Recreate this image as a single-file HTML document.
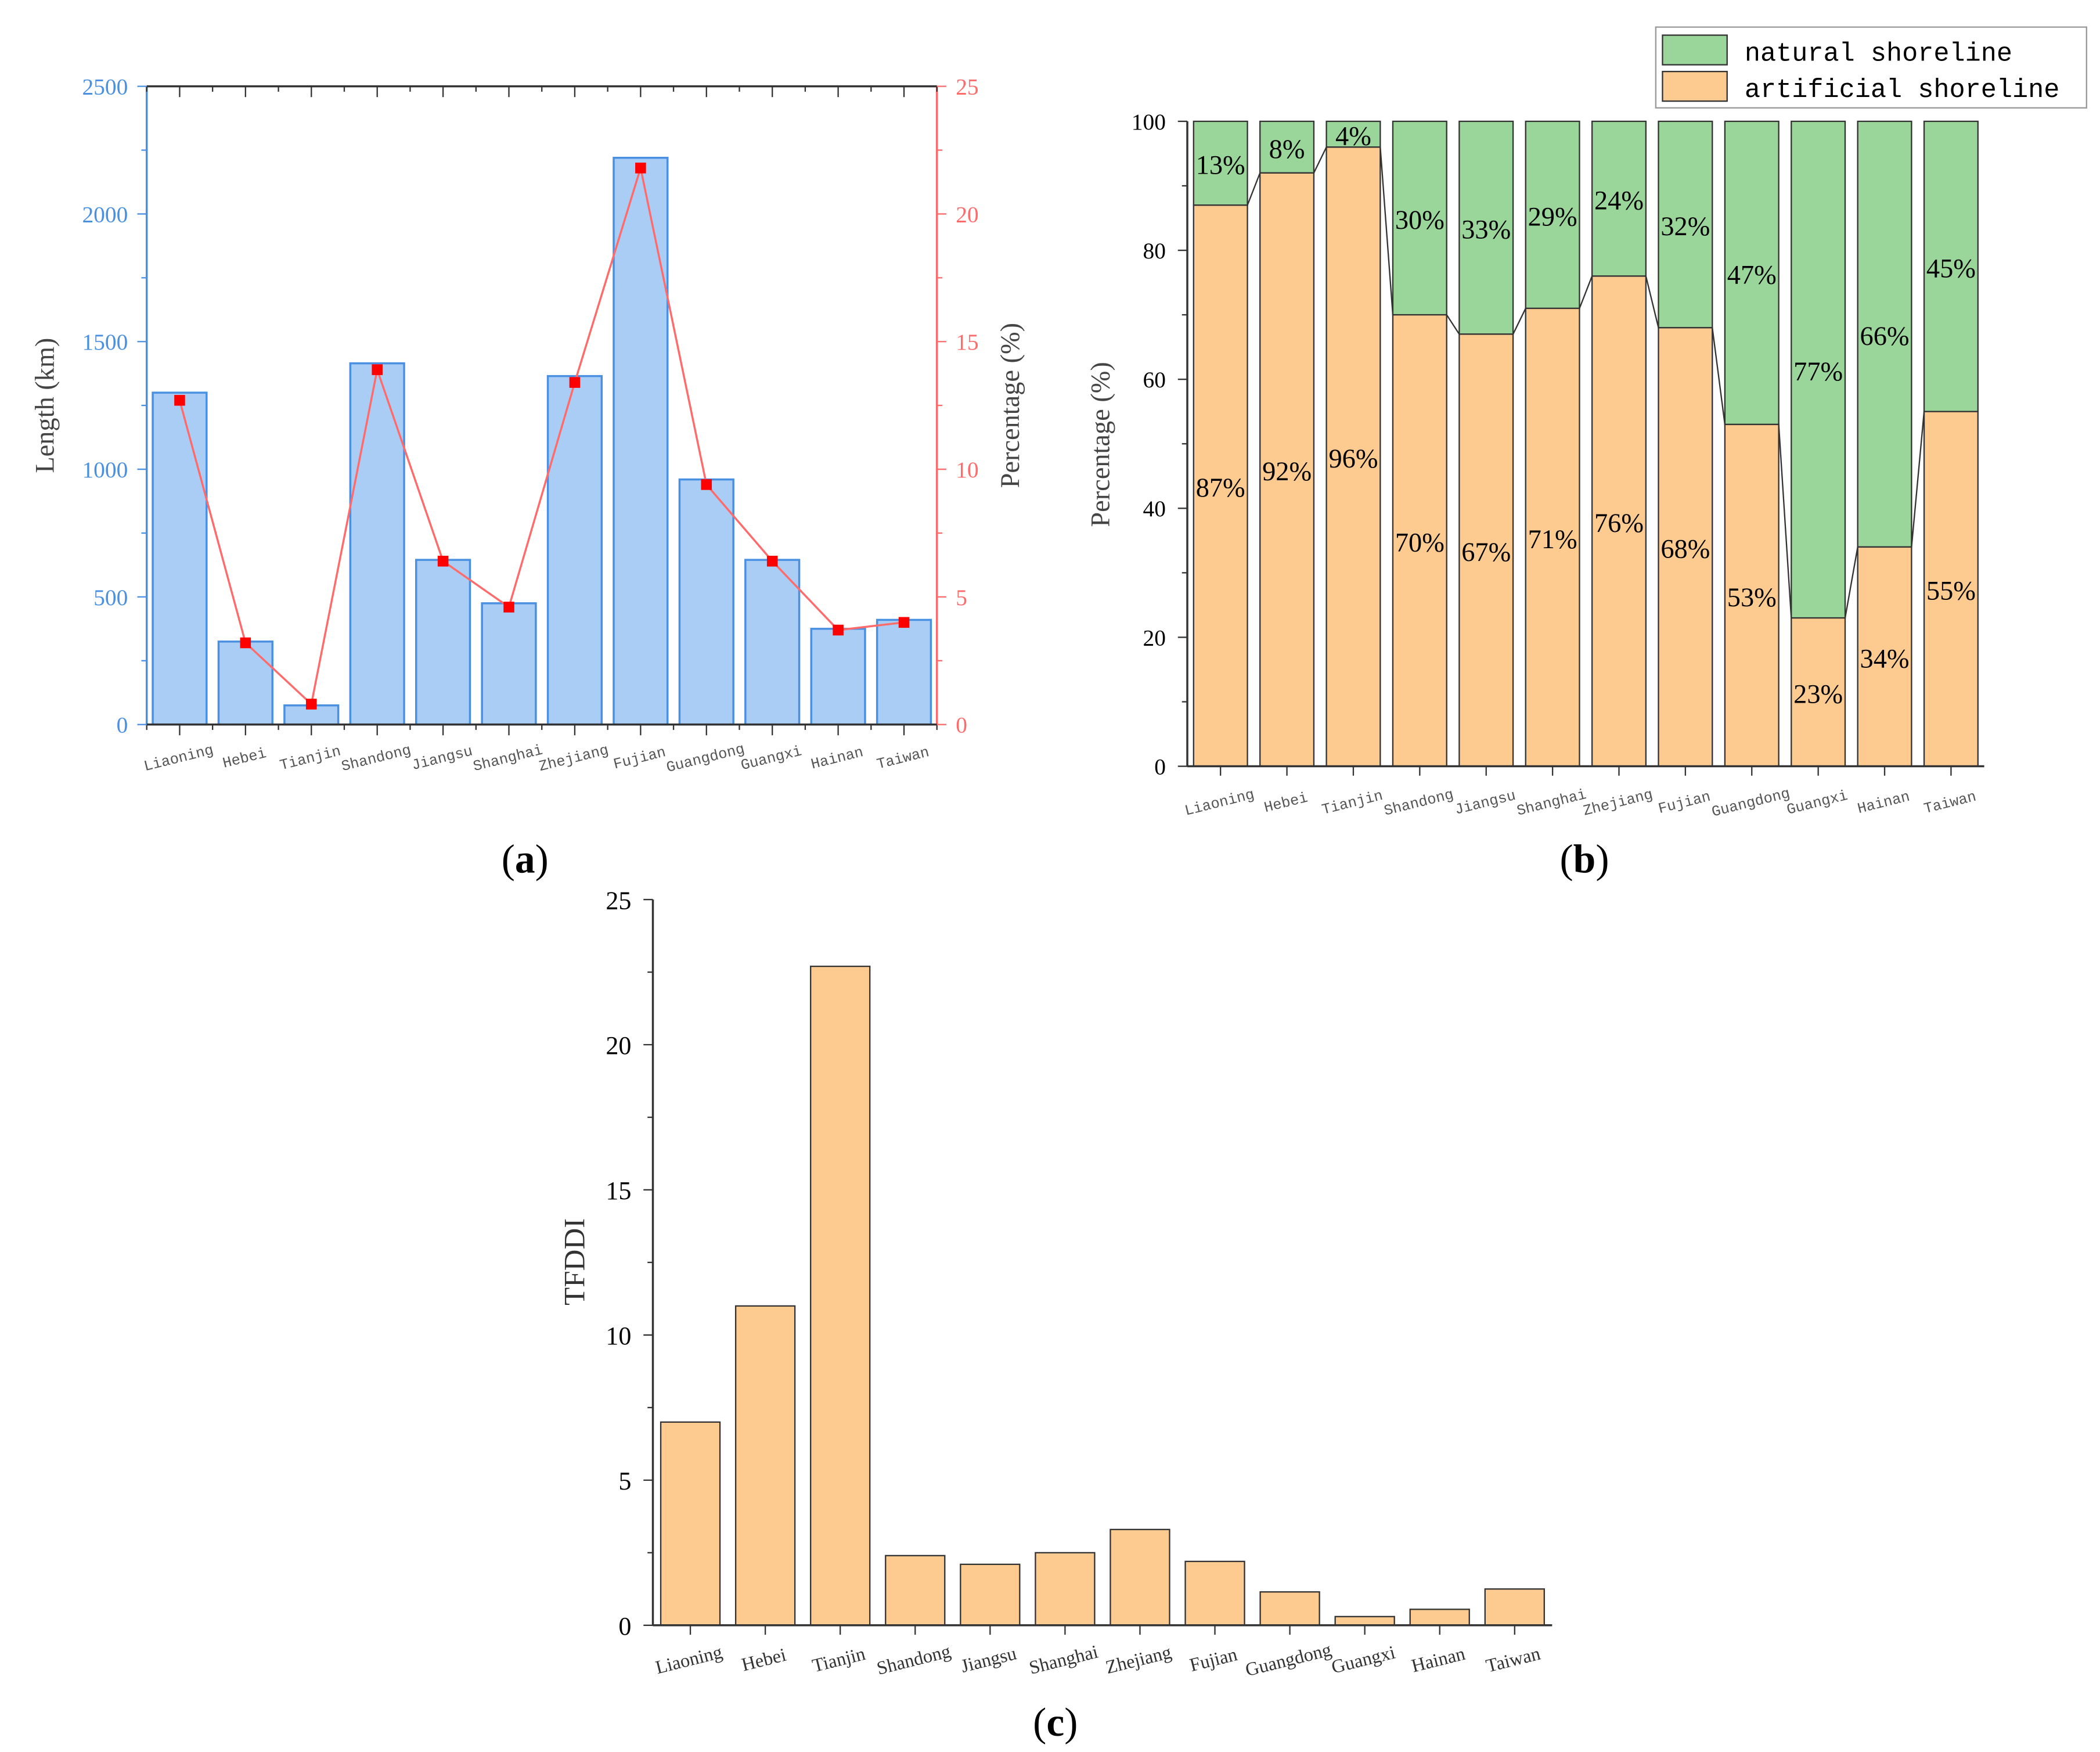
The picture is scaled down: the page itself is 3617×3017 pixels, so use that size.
<!DOCTYPE html>
<html><head><meta charset="utf-8"><style>
html,body{margin:0;padding:0;background:#fff}
svg{display:block}
text{font-family:"Liberation Serif",serif}
text.tk{font-family:"Liberation Mono",monospace;font-size:11px;fill:#555}
text.mono{font-family:"Liberation Mono",monospace}
</style></head><body>
<svg id="s" width="3617" height="3017" viewBox="0 0 1560 1301" xmlns="http://www.w3.org/2000/svg">
<g id="ga"></g>
<g id="gb"></g>
<g id="gc"></g>
<text x="390" y="648" font-size="30" text-anchor="middle">(<tspan font-weight="bold">a</tspan>)</text>
<text x="1177" y="648" font-size="30" text-anchor="middle">(<tspan font-weight="bold">b</tspan>)</text>
<text x="784" y="1289" font-size="30" text-anchor="middle">(<tspan font-weight="bold">c</tspan>)</text>
<g>
<rect x="1230" y="20" width="320" height="60" fill="#fff" stroke="#999"/>
<rect x="1235" y="26" width="48" height="22" fill="#9ad69a" stroke="#333"/>
<rect x="1235" y="53" width="48" height="22" fill="#fdca90" stroke="#333"/>
<text class="mono" x="1296" y="45" font-size="19.5">natural shoreline</text>
<text class="mono" x="1296" y="72" font-size="19.5">artificial shoreline</text>
</g>
</svg>
<script>
const provinces=["Liaoning","Hebei","Tianjin","Shandong","Jiangsu","Shanghai","Zhejiang","Fujian","Guangdong","Guangxi","Hainan","Taiwan"];
const lengthKm=[1300,325,75,1415,645,475,1365,2220,960,645,375,410];
const lengthPct=[12.7,3.2,0.8,13.9,6.4,4.6,13.4,21.8,9.4,6.4,3.7,4.0];
const artificialPct=[87,92,96,70,67,71,76,68,53,23,34,55];
const tfddi=[7.0,11.0,22.7,2.4,2.1,2.5,3.3,2.2,1.15,0.3,0.55,1.25];
const ticksA=[0,500,1000,1500,2000,2500];
const ticksAR=[0,5,10,15,20,25];
const ticksB=[0,20,40,60,80,100];
const ticksC=[0,5,10,15,20,25];
const NS="http://www.w3.org/2000/svg";
function el(p,t,a,txt){const e=document.createElementNS(NS,t);for(const k in a)e.setAttribute(k,a[k]);if(txt!==undefined)e.textContent=txt;p.appendChild(e);return e;}
function catLabels(g,x0,bw,y,dy){provinces.forEach((p,i)=>{const cx=x0+bw*(i+0.5);const t=el(g,'text',{x:cx,y:y+dy,class:'tk','text-anchor':'middle',transform:`rotate(-14 ${cx} ${y+dy})`},p);

});}
// chart a
(function(){const g=document.getElementById('ga');const x0=109,x1=696,yb=538,yt=64;const bw=(x1-x0)/12;
const y=v=>yb-(v/2500)*(yb-yt);const yr=v=>yb-(v/25)*(yb-yt);
lengthKm.forEach((v,i)=>{const r=el(g,'rect',{x:x0+bw*i+bw/2-20,y:y(v),width:40,height:yb-y(v),fill:'#aacdf5',stroke:'#4a90e2','stroke-width':1.5});

});
el(g,'polyline',{points:lengthPct.map((v,i)=>`${x0+bw*(i+0.5)},${yr(v)}`).join(' '),fill:'none',stroke:'#ff6b6b','stroke-width':1.5});
lengthPct.forEach((v,i)=>{const r=el(g,'rect',{x:x0+bw*(i+0.5)-4,y:yr(v)-4,width:8,height:8,fill:'#f00'});

});
el(g,'line',{x1:x0,y1:yt,x2:x0,y2:yb,stroke:'#4a90e2','stroke-width':1.5});
el(g,'line',{x1:x1,y1:yt,x2:x1,y2:yb,stroke:'#ff6b6b','stroke-width':1.5});
el(g,'line',{x1:x0,y1:yb,x2:x1,y2:yb,stroke:'#333','stroke-width':1.5});
el(g,'line',{x1:x0,y1:yt,x2:x1,y2:yt,stroke:'#333','stroke-width':1.5});
for(let i=0;i<=12;i++){const x=x0+bw*i;el(g,'line',{x1:x,y1:yb,x2:x,y2:yb+4,stroke:'#333'});el(g,'line',{x1:x,y1:yt,x2:x,y2:yt+4,stroke:'#333'});
const xm=x0+bw*(i+0.5);if(i<12){el(g,'line',{x1:xm,y1:yb,x2:xm,y2:yb+8,stroke:'#333'});el(g,'line',{x1:xm,y1:yt,x2:xm,y2:yt+8,stroke:'#333'});}}
ticksA.forEach(v=>{el(g,'line',{x1:x0-7,y1:y(v),x2:x0,y2:y(v),stroke:'#4a90e2'});if(v<2500)el(g,'line',{x1:x0-4,y1:y(v+250),x2:x0,y2:y(v+250),stroke:'#4a90e2'});
el(g,'text',{x:x0-14,y:y(v)+6,'font-size':17,fill:'#4a90e2','text-anchor':'end'},v);});
ticksAR.forEach(v=>{el(g,'line',{x1:x1,y1:yr(v),x2:x1+7,y2:yr(v),stroke:'#ff6b6b'});if(v<25)el(g,'line',{x1:x1,y1:yr(v+2.5),x2:x1+4,y2:yr(v+2.5),stroke:'#ff6b6b'});
el(g,'text',{x:x1+14,y:yr(v)+6,'font-size':17,fill:'#ff6b6b'},v);});
el(g,'text',{x:40,y:301,'font-size':20,fill:'#444','text-anchor':'middle',transform:'rotate(-90 40 301)'},'Length (km)');
el(g,'text',{x:757,y:301,'font-size':20,fill:'#444','text-anchor':'middle',transform:'rotate(-90 757 301)'},'Percentage (%)');
catLabels(g,x0,bw,yb,28);})();
// chart b
(function(){const g=document.getElementById('gb');const x0=882,x1=1474,yb=569,yt=90;const bw=(x1-x0)/12;
const y=v=>yb-(v/100)*(yb-yt);
artificialPct.forEach((v,i)=>{const bx=x0+bw*i+bw/2-20;
const n=el(g,'rect',{x:bx,y:yt,width:40,height:y(v)-yt,fill:'#9ad69a',stroke:'#333'});


const a=el(g,'rect',{x:bx,y:y(v),width:40,height:yb-y(v),fill:'#fdca90',stroke:'#333'});


el(g,'text',{x:bx+20,y:y(v)+(yb-y(v))/2+8,'font-size':20,'text-anchor':'middle'},v+'%');
el(g,'text',{x:bx+20,y:yt+(y(v)-yt)/2+8,'font-size':20,'text-anchor':'middle'},(100-v)+'%');
if(i<11){el(g,'line',{x1:bx+40,y1:y(v),x2:bx+bw,y2:y(artificialPct[i+1]),stroke:'#333'});}});
el(g,'line',{x1:x0,y1:yt,x2:x0,y2:yb,stroke:'#333','stroke-width':1.5});
el(g,'line',{x1:x0,y1:yb,x2:x1,y2:yb,stroke:'#333','stroke-width':1.5});
ticksB.forEach(v=>{el(g,'line',{x1:x0-7,y1:y(v),x2:x0,y2:y(v),stroke:'#333'});if(v<100)el(g,'line',{x1:x0-4,y1:y(v+10),x2:x0,y2:y(v+10),stroke:'#333'});
el(g,'text',{x:x0-16,y:y(v)+6,'font-size':17,'text-anchor':'end'},v);});
for(let i=0;i<12;i++){const xm=x0+bw*(i+0.5);el(g,'line',{x1:xm,y1:yb,x2:xm,y2:yb+7,stroke:'#333'});}
el(g,'text',{x:824,y:330,'font-size':20,fill:'#444','text-anchor':'middle',transform:'rotate(-90 824 330)'},'Percentage (%)');
catLabels(g,x0,bw,yb,30);})();
// chart c
(function(){const g=document.getElementById('gc');const x0=485,x1=1153,yb=1207,yt=668;const bw=(x1-x0)/12;
const y=v=>yb-(v/25)*(yb-yt);
tfddi.forEach((v,i)=>{const r=el(g,'rect',{x:x0+bw*i+bw/2-22,y:y(v),width:44,height:yb-y(v),fill:'#fdca90',stroke:'#333'});

});
el(g,'line',{x1:x0,y1:yt,x2:x0,y2:yb,stroke:'#333','stroke-width':1.5});
el(g,'line',{x1:x0,y1:yb,x2:x1,y2:yb,stroke:'#333','stroke-width':1.5});
ticksC.forEach(v=>{el(g,'line',{x1:x0-7,y1:y(v),x2:x0,y2:y(v),stroke:'#333'});if(v<25)el(g,'line',{x1:x0-4,y1:y(v+2.5),x2:x0,y2:y(v+2.5),stroke:'#333'});
el(g,'text',{x:x0-16,y:y(v)+7,'font-size':19,'text-anchor':'end'},v);});
for(let i=0;i<12;i++){const xm=x0+bw*(i+0.5);el(g,'line',{x1:xm,y1:yb,x2:xm,y2:yb+7,stroke:'#333'});}
el(g,'text',{x:434,y:937,'font-size':22,fill:'#333','text-anchor':'middle',transform:'rotate(-90 434 937)'},'TFDDI');
provinces.forEach((p,i)=>{const cx=x0+bw*(i+0.5);const t=el(g,'text',{x:cx,y:yb+30,'font-size':14,fill:'#333','text-anchor':'middle',transform:`rotate(-14 ${cx} ${yb+30})`},p);

});})();
</script>
</body></html>
